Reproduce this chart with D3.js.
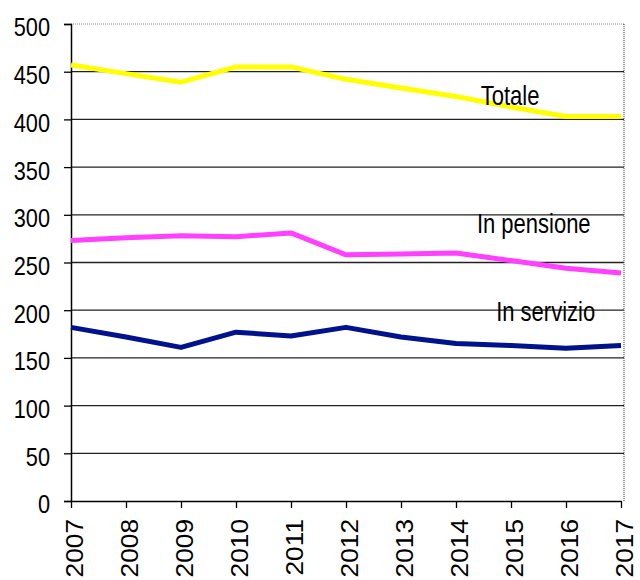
<!DOCTYPE html>
<html>
<head>
<meta charset="utf-8">
<script src="https://cdn.jsdelivr.net/npm/d3@7"></script>
<style>
body{margin:0;background:#fff;}
text{font-family:"Liberation Sans",Arial,sans-serif;fill:#000;}
</style>
</head>
<body>
<svg width="640" height="580"></svg>
<script>
var years = [2007,2008,2009,2010,2011,2012,2013,2014,2015,2016,2017];
var totale = [457,448,439,455,455,442,433,424,413,403,403];
var pensione = [273,276,278,277,281,258,259,260,252,244,239];
var servizio = [182,172,161,177,173,182,172,165,163,160,163];
var yTicks = [0,50,100,150,200,250,300,350,400,450,500];
var seriesNames = ['Totale','In pensione','In servizio'];

var svg = d3.select('svg');
var margin = {left:71,right:16,top:24,bottom:79};
var width = +svg.attr('width'), height = +svg.attr('height');
var innerwidth = 550, innerheight = height - margin.top - margin.bottom;
var sx = 0.82; // the text in the picture is squeezed sideways
var sl = 0.8;  // same for the line labels

var xscale = d3.scaleLinear().domain([2007,2017]).range([0,innerwidth]);
var yscale = d3.scaleLinear().domain([0,500]).range([innerheight,0]);

var g = svg.append('g').attr('transform',`translate(${margin.left},${margin.top})`);

// gridlines
g.append('g').selectAll('line').data(yTicks.filter(d => d>0 && d<500))
	.enter().append('line')
	.attr('x1',0).attr('x2',553)
	.attr('y1',d => yscale(d)).attr('y2',d => yscale(d))
	.attr('stroke','#222').attr('stroke-width',1.3);
g.append('line').attr('x1',0).attr('x2',553).attr('y1',0).attr('y2',0)
	.attr('stroke','#888').attr('stroke-width',1).attr('stroke-dasharray','1,1');
g.append('line').attr('x1',553).attr('x2',553).attr('y1',0).attr('y2',innerheight)
	.attr('stroke','#333').attr('stroke-width',1).attr('stroke-dasharray','1,1');

// axes
var yaxis = g.append('g').call(d3.axisLeft(yscale).tickValues(yTicks).tickSize(7).tickPadding(14));
yaxis.select('.domain').attr('stroke','#000').attr('stroke-width',1.5);
yaxis.selectAll('.tick line').attr('stroke','#000').attr('stroke-width',1.3);
yaxis.selectAll('text').attr('font-size',26.5).attr('font-family','"Liberation Sans",Arial,sans-serif')
	.attr('x',-21/sx).attr('transform',`scale(${sx},1)`).attr('dy','0.45em');

var xaxis = g.append('g').attr('transform',`translate(0,${innerheight})`)
	.call(d3.axisBottom(xscale).tickValues(years).tickFormat(d3.format('d')).tickSize(7).tickSizeOuter(0));
xaxis.select('.domain').attr('stroke','#000').attr('stroke-width',1.5);
xaxis.selectAll('.tick line').attr('stroke','#000').attr('stroke-width',1.3);
xaxis.selectAll('text').attr('font-size',23.7).attr('font-family','"Liberation Sans",Arial,sans-serif')
	.attr('text-anchor','end').attr('dy',null).attr('y',0)
	.attr('transform','translate(11,18) rotate(-90) scale(1.11,1)');

// lines
var line = d3.line().x((d,i) => xscale(years[i])).y(d => yscale(d));
var colors = ['#ffff00','#ff40ff','#00128c'];
[totale,pensione,servizio].forEach(function(s,i){
	g.append('path').datum(s).attr('d',line).attr('fill','none')
		.attr('stroke',colors[i]).attr('stroke-width',5).attr('stroke-linejoin','round');
});

// labels
var labelPos = [[2014.45,415],[2014.38,281],[2014.73,189]];
seriesNames.forEach(function(n,i){
	g.append('text').attr('x',xscale(labelPos[i][0])/sl).attr('y',yscale(labelPos[i][1]))
		.attr('font-size',27.5).attr('transform',`scale(${sl},1)`).text(n);
});
</script>
</body>
</html>
